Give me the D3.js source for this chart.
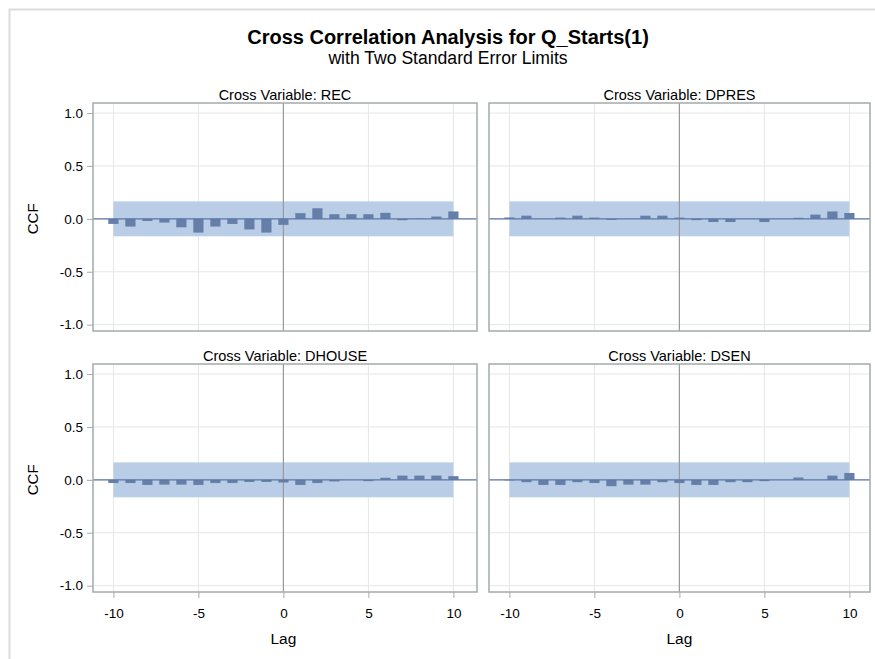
<!DOCTYPE html>
<html>
<head>
<meta charset="utf-8">
<script src="https://d3js.org/d3.v7.min.js"></script>
<style>
  body { margin: 0; background: #fff; }
  text { font-family: Arial, "Liberation Sans", sans-serif; fill: #000; }
</style>
</head>
<body>
<script>
// lags -10..10
var lags = d3.range(-10, 11);
var ccfRec    = [-0.048,-0.073,-0.02,-0.035,-0.08,-0.13,-0.073,-0.048,-0.1,-0.13,-0.057,0.054,0.1,0.044,0.044,0.044,0.057,-0.013,0.003,0.022,0.07];
var ccfDpres  = [0.013,0.03,0.0,0.012,0.03,0.012,-0.01,0.0,0.03,0.03,0.012,-0.012,-0.03,-0.03,0.0,-0.03,0.0,0.01,0.04,0.07,0.055];
var ccfDhouse = [-0.03,-0.03,-0.048,-0.045,-0.045,-0.048,-0.03,-0.03,-0.02,-0.02,-0.025,-0.048,-0.03,-0.015,0.0,-0.012,0.02,0.04,0.04,0.04,0.035];
var ccfDsen   = [-0.005,-0.022,-0.048,-0.048,-0.022,-0.03,-0.06,-0.045,-0.045,-0.022,-0.03,-0.048,-0.048,-0.022,-0.022,-0.012,0.0,0.022,0.0,0.04,0.065];
var stdErr2   = 0.165;   // two standard error limit
var panelNames = ["REC", "DPRES", "DHOUSE", "DSEN"];
var yTicks = [-1, -0.5, 0, 0.5, 1];
var xTicks = [-10, -5, 0, 5, 10];

var series = [ccfRec, ccfDpres, ccfDhouse, ccfDsen];

var W = 875, H = 659;
var svg = d3.select("body").append("svg").attr("width", W).attr("height", H);

// outer frame
svg.append("path")
  .attr("d", "M9.5," + H + "V9.5H" + W)
  .attr("fill", "none").attr("stroke", "#dcdcdc").attr("stroke-width", 2);

svg.append("text").attr("x", 448).attr("y", 44).attr("text-anchor", "middle")
  .style("font-size", "20px").style("font-weight", "bold")
  .text("Cross Correlation Analysis for Q_Starts(1)");
svg.append("text").attr("x", 448).attr("y", 64).attr("text-anchor", "middle")
  .style("font-size", "17.6px")
  .text("with Two Standard Error Limits");

var pws = [384, 381], ph = 228;
var lefts = [93, 489], tops = [103, 364];

var y = d3.scaleLinear().domain([-1.06, 1.095]).range([ph, 0]);

series.forEach(function(vals, i) {
  var col = i % 2, row = Math.floor(i / 2);
  var pw = pws[col];
  var x = d3.scaleLinear().domain([-11.2, -11.2 + pw / 17]).range([0, pw]);
  var bw = x(0.3) - x(-0.3);
  var g = svg.append("g")
    .attr("transform", "translate(" + lefts[col] + "," + tops[row] + ")");

  g.append("text").attr("x", pw / 2).attr("y", -3).attr("text-anchor", "middle")
    .style("font-size", "14.5px").text("Cross Variable: " + panelNames[i]);

  // grid
  g.selectAll(".gx").data(xTicks).enter().append("line")
    .attr("x1", function(d) { return x(d); }).attr("x2", function(d) { return x(d); })
    .attr("y1", 0).attr("y2", ph).attr("stroke", "#e6e6e6");
  g.selectAll(".gy").data(yTicks).enter().append("line")
    .attr("x1", 0).attr("x2", pw)
    .attr("y1", function(d) { return y(d); }).attr("y2", function(d) { return y(d); })
    .attr("stroke", "#e6e6e6");

  // error band
  g.append("rect")
    .attr("x", x(-10)).attr("width", x(10) - x(-10))
    .attr("y", y(stdErr2)).attr("height", y(-stdErr2) - y(stdErr2))
    .attr("fill", "#b9cde6");

  // vertical reference at lag 0
  g.append("line").attr("x1", x(0)).attr("x2", x(0)).attr("y1", 0).attr("y2", ph)
    .attr("stroke", "#9a9a9a").attr("stroke-width", 1.2);

  // bars
  g.selectAll(".bar").data(lags).enter().append("rect")
    .attr("x", function(d) { return x(d) - bw / 2; })
    .attr("width", bw)
    .attr("y", function(d, j) { return y(Math.max(0, vals[j])); })
    .attr("height", function(d, j) { return Math.abs(y(vals[j]) - y(0)); })
    .attr("fill", "#667fa8");

  // zero line
  g.append("line").attr("x1", 0).attr("x2", pw).attr("y1", y(0)).attr("y2", y(0))
    .attr("stroke", "#5a77a6").attr("stroke-width", 1.2);

  // frame
  g.append("rect").attr("width", pw).attr("height", ph)
    .attr("fill", "none").attr("stroke", "#a3aaaa").attr("stroke-width", 1.5);

  if (col === 0) {
    var ya = g.append("g").call(d3.axisLeft(y).tickValues(yTicks).tickSize(6).tickPadding(4)
      .tickFormat(d3.format(".1f")));
    ya.select(".domain").remove();
    ya.selectAll("line").attr("stroke", "#a3aaaa");
    ya.selectAll("text").style("font-size", "13.5px").style("font-family", "Arial, 'Liberation Sans', sans-serif")
      .text(function(d) { return d3.format(".1f")(d).replace("−", "-"); });
    g.append("text").attr("transform", "translate(-55," + y(0) + ") rotate(-90)")
      .attr("text-anchor", "middle").style("font-size", "15px").text("CCF");
  }
  if (row === 1) {
    var xa = g.append("g").attr("transform", "translate(0," + ph + ")")
      .call(d3.axisBottom(x).tickValues(xTicks).tickSize(6).tickPadding(10));
    xa.select(".domain").remove();
    xa.selectAll("line").attr("stroke", "#a3aaaa");
    xa.selectAll("text").style("font-size", "13.5px").style("font-family", "Arial, 'Liberation Sans', sans-serif")
      .text(function(d) { return String(d); });
    g.append("text").attr("x", x(0)).attr("y", ph + 52).attr("text-anchor", "middle")
      .style("font-size", "15.5px").text("Lag");
  }
});
</script>
</body>
</html>
